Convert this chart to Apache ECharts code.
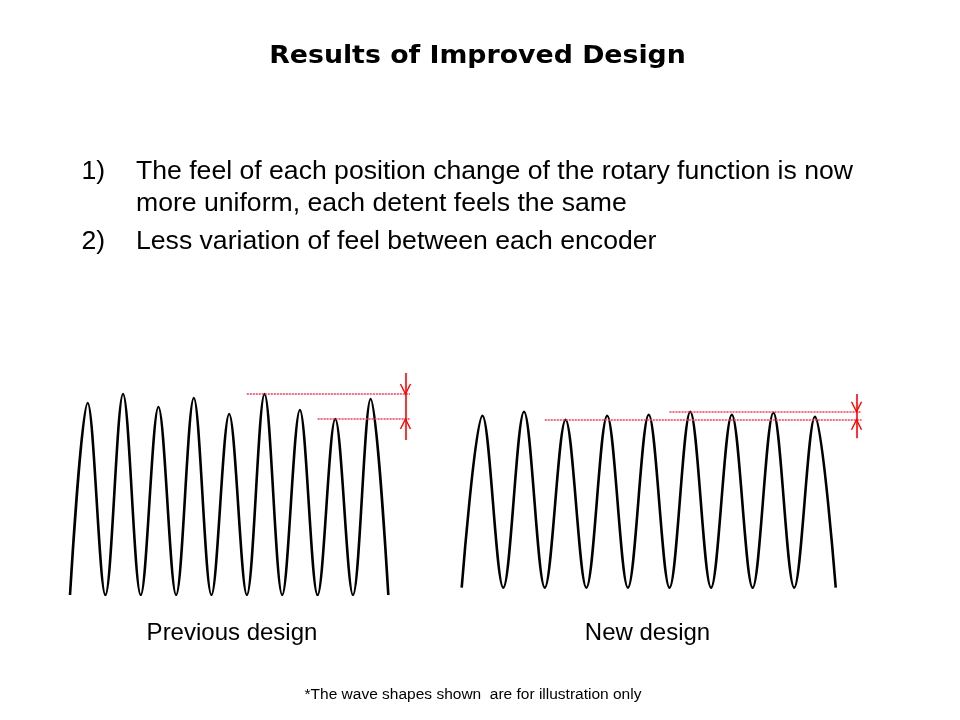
<!DOCTYPE html>
<html><head><meta charset="utf-8">
<script src="https://cdn.jsdelivr.net/npm/echarts@6/dist/echarts.min.js"></script>
<style>html,body{margin:0;padding:0;background:#fff}#c{width:960px;height:720px}</style>
</head><body><div id="c"></div>
<script>
// ---- content ----
const titleText = 'Results of Improved Design';
const bulletNumbers = ['1)', '2)'];
const bullet1Lines = ['The feel of each position change of the rotary function is now', 'more uniform, each detent feels the same'];
const bullet2Lines = ['Less variation of feel between each encoder'];
const chartLabels = ['Previous design', 'New design'];
const footnote = '*The wave shapes shown  are for illustration only';

// ---- data: peak height of each detent (trough = 0) ----
const prevPeaks = [96, 100.5, 94, 98.5, 90.5, 100.5, 92.5, 88, 98];
const newPeaks = [86, 88, 84, 86, 86.5, 88, 86.5, 87.5, 85.5];
const troughLevel = 0;

function waveData(peaks) {
  const d = [[0, troughLevel]];
  peaks.forEach((p, i) => { d.push([i + 0.5, p]); d.push([i + 1, troughLevel]); });
  return d;
}

const RED = '#ff0000';
const PINK = '#ff3a5a';

function annotations(peaks, lineEnd, vx, vTop, vBottom) {
  const maxV = Math.max(...peaks), minV = Math.min(...peaks);
  const maxIdx = peaks.lastIndexOf(maxV), minIdx = peaks.lastIndexOf(minV);
  const dotted = { color: PINK, type: [2, 1], width: 1.6, opacity: 1 };
  const solid = { color: RED, type: 'solid', width: 1.6, opacity: 1 };
  return {
    markLine: {
      silent: true, symbol: 'none', label: { show: false }, animation: false,
      lineStyle: dotted,
      emphasis: { disabled: true },
      data: [
        [{ coord: [maxIdx, maxV], lineStyle: dotted }, { coord: [lineEnd, maxV], lineStyle: dotted }],
        [{ coord: [minIdx, minV], lineStyle: dotted }, { coord: [lineEnd, minV], lineStyle: dotted }],
        [{ coord: [vx, vTop], lineStyle: solid }, { coord: [vx, vBottom], lineStyle: solid }]
      ]
    },
    markPoint: {
      silent: true, animation: false, label: { show: false },
      itemStyle: { color: 'none', borderColor: RED, borderWidth: 1.4 },
      data: [
        { coord: [vx, maxV], symbol: 'path://M0,0L5,10L10,0', symbolSize: [10, 10], symbolOffset: [0, -5] },
        { coord: [vx, minV], symbol: 'path://M0,10L5,0L10,10', symbolSize: [10, 10], symbolOffset: [0, 5] }
      ]
    }
  };
}

const chart = echarts.init(document.getElementById('c'), null, { renderer: 'canvas' });

const bodyFont = '26.6px "Liberation Sans", Arial, sans-serif';
const graphics = [
  { type: 'text', x: 477.5, y: 56.5, scaleX: 1.115, style: { text: titleText, font: 'bold 24px "DejaVu Sans", Verdana, sans-serif', fill: '#000', align: 'center', verticalAlign: 'middle' } },
  { type: 'text', x: 81.5, y: 171.5, style: { text: bulletNumbers[0], font: bodyFont, fill: '#000', align: 'left', verticalAlign: 'middle' } },
  { type: 'text', x: 136, y: 171.5, style: { text: bullet1Lines[0], font: bodyFont, fill: '#000', align: 'left', verticalAlign: 'middle' } },
  { type: 'text', x: 136, y: 203.5, style: { text: bullet1Lines[1], font: bodyFont, fill: '#000', align: 'left', verticalAlign: 'middle' } },
  { type: 'text', x: 81.5, y: 241.5, style: { text: bulletNumbers[1], font: bodyFont, fill: '#000', align: 'left', verticalAlign: 'middle' } },
  { type: 'text', x: 136, y: 241.5, style: { text: bullet2Lines[0], font: bodyFont, fill: '#000', align: 'left', verticalAlign: 'middle' } },
  { type: 'text', x: 232, y: 633.5, style: { text: chartLabels[0], font: '24px "Liberation Sans", Arial, sans-serif', fill: '#000', align: 'center', verticalAlign: 'middle' } },
  { type: 'text', x: 647.5, y: 633.5, style: { text: chartLabels[1], font: '24px "Liberation Sans", Arial, sans-serif', fill: '#000', align: 'center', verticalAlign: 'middle' } },
  { type: 'text', x: 473, y: 694.5, style: { text: footnote, font: '15.5px "Liberation Sans", Arial, sans-serif', fill: '#000', align: 'center', verticalAlign: 'middle' } }
];

const hiddenAxis = { type: 'value', show: false, splitLine: { show: false } };

chart.setOption({
  animation: false,
  backgroundColor: '#fff',
  graphic: graphics,
  grid: [
    { left: 70, right: 960 - 423.7, top: 595 - 230, bottom: 720 - 595, containLabel: false },
    { left: 461.7, right: 960 - 877.3, top: 587.7 - 230, bottom: 720 - 587.7, containLabel: false }
  ],
  xAxis: [
    Object.assign({ gridIndex: 0, min: 0, max: 10 }, hiddenAxis),
    Object.assign({ gridIndex: 1, min: 0, max: 10 }, hiddenAxis)
  ],
  yAxis: [
    Object.assign({ gridIndex: 0, min: 0, max: 115 }, hiddenAxis),
    Object.assign({ gridIndex: 1, min: 0, max: 115 }, hiddenAxis)
  ],
  series: [
    Object.assign({
      name: chartLabels[0], type: 'line', xAxisIndex: 0, yAxisIndex: 0,
      data: waveData(prevPeaks), smooth: 0.34, showSymbol: false, symbol: 'none',
      lineStyle: { color: '#000', width: 2.6 }, silent: true
    }, annotations(prevPeaks, 9.61, 9.485, 111, 77.5)),
    Object.assign({
      name: chartLabels[1], type: 'line', xAxisIndex: 1, yAxisIndex: 1,
      data: waveData(newPeaks), smooth: 0.34, showSymbol: false, symbol: 'none',
      lineStyle: { color: '#000', width: 2.6 }, silent: true
    }, annotations(newPeaks, 9.62, 9.5, 96.85, 74.7))
  ]
});
</script></body></html>
